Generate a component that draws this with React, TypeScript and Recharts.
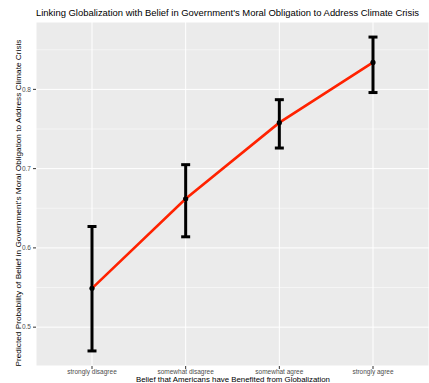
import React from "react";
import {
  ComposedChart,
  Line,
  XAxis,
  YAxis,
  CartesianGrid,
  ErrorBar,
  ReferenceLine,
} from "recharts";

const categories = [
  "strongly disagree",
  "somewhat disagree",
  "somewhat agree",
  "strongly agree",
];
const predicted = [0.549, 0.662, 0.758, 0.834];
const lower = [0.47, 0.614, 0.726, 0.796];
const upper = [0.627, 0.705, 0.787, 0.866];
const yTicks = [0.5, 0.6, 0.7, 0.8];
const minorTicks = [0.55, 0.65, 0.75, 0.85];

const data = categories.map((cat, i) => ({
  cat,
  value: predicted[i],
  err: [predicted[i] - lower[i], upper[i] - predicted[i]],
}));

const font = "'Liberation Sans', Arial, sans-serif";

function XTick(props: any) {
  const { x, y, payload } = props;
  return (
    <text
      x={x}
      y={y - 1.5}
      dy="0.71em"
      textAnchor="middle"
      fontSize={6.5}
      fill="#4d4d4d"
      fontFamily={font}
    >
      {payload.value}
    </text>
  );
}

function App() {
  return (
    <div style={{ position: "absolute", left: 0, top: 0 }}>
      <ComposedChart
        width={429}
        height={383}
        data={data}
        margin={{ top: 22, right: 0, left: 0, bottom: 0 }}
        style={{ fontFamily: font }}
      >
        <text
          x={36}
          y={16}
          fontSize={9.5}
          fill="#000"
          fontFamily={font}
          textLength={383}
          lengthAdjust="spacingAndGlyphs"
        >
          Linking Globalization with Belief in Government's Moral Obligation to Address Climate Crisis
        </text>
        <text
          x={233}
          y={382}
          fontSize={8}
          fill="#000"
          fontFamily={font}
          textAnchor="middle"
          textLength={194}
          lengthAdjust="spacingAndGlyphs"
        >
          Belief that Americans have Benefited from Globalization
        </text>
        <text
          x={0}
          y={0}
          transform="translate(21,203) rotate(-90)"
          fontSize={8}
          fill="#000"
          fontFamily={font}
          textAnchor="middle"
          textLength={327}
          lengthAdjust="spacingAndGlyphs"
        >
          Predicted Probability of Belief in Government's Moral Obligation to Address Climate Crisis
        </text>
        <CartesianGrid fill="#ebebeb" stroke="#ffffff" strokeWidth={1} />
        {minorTicks.map((t) => (
          <ReferenceLine key={t} y={t} stroke="#ffffff" strokeWidth={0.5} />
        ))}
        <XAxis
          dataKey="cat"
          scale="point"
          padding={{ left: 56, right: 56 }}
          height={17}
          axisLine={false}
          tickLine={{ stroke: "#333333" }}
          tickSize={3}
          tick={<XTick />}
          interval={0}
        />
        <YAxis
          type="number"
          domain={[0.451, 0.885]}
          allowDataOverflow
          ticks={yTicks}
          width={36}
          axisLine={false}
          tickLine={{ stroke: "#333333" }}
          tickSize={3}
          tick={{ fontSize: 6.5, fill: "#4d4d4d" }}
          tickFormatter={(v: number) => v.toFixed(1)}
        />
        <Line
          type="linear"
          dataKey="value"
          stroke="#ff2200"
          strokeWidth={2.6}
          dot={{ r: 2.6, fill: "#000", stroke: "#000", strokeWidth: 0 }}
          activeDot={false}
          isAnimationActive={false}
        >
          <ErrorBar
            dataKey="err"
            direction="y"
            width={4.5}
            stroke="#000"
            strokeWidth={3}
            isAnimationActive={false}
          />
        </Line>
      </ComposedChart>
    </div>
  );
}

export default App;
